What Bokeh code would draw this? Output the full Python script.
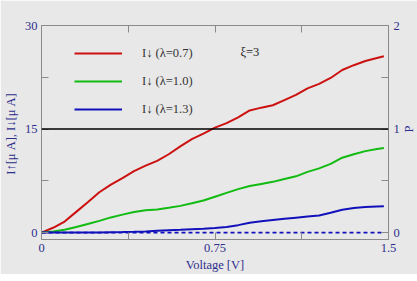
import math
from bokeh.plotting import figure
from bokeh.models import (Range1d, LinearAxis, FixedTicker, Span, Legend, LegendItem, Label)
from bokeh.embed import file_html
from bokeh.resources import INLINE

voltage = [0.0, 0.05, 0.1, 0.15, 0.2, 0.25, 0.3, 0.35, 0.4, 0.45, 0.5, 0.55, 0.6, 0.65,
           0.7, 0.75, 0.8, 0.85, 0.9, 0.95, 1.0, 1.05, 1.1, 1.15, 1.2, 1.25, 1.3, 1.35,
           1.4, 1.45, 1.48]
i_down_07 = [0.0, 0.7, 1.6, 3.0, 4.4, 5.85, 6.95, 7.9, 8.9, 9.7, 10.4, 11.35, 12.5, 13.55,
             14.35, 15.2, 15.85, 16.7, 17.7, 18.1, 18.45, 19.2, 19.95, 20.9, 21.55, 22.4,
             23.55, 24.25, 24.85, 25.3, 25.55]
i_down_10 = [0.0, 0.17, 0.4, 0.8, 1.25, 1.7, 2.2, 2.6, 2.98, 3.25, 3.35, 3.6, 3.87, 4.25,
             4.65, 5.2, 5.75, 6.3, 6.75, 7.05, 7.35, 7.75, 8.15, 8.8, 9.3, 9.95, 10.85,
             11.35, 11.8, 12.1, 12.25]
i_down_13 = [0.0, 0.0, 0.0, 0.0, 0.0, 0.02, 0.05, 0.08, 0.12, 0.17, 0.25, 0.33, 0.4, 0.48,
             0.55, 0.65, 0.82, 1.08, 1.44, 1.65, 1.82, 1.99, 2.16, 2.33, 2.47, 2.87, 3.31,
             3.55, 3.72, 3.78, 3.8]
i_up = [0.0, 0.0, 0.0, 0.0, 0.0, 0.0, 0.0, 0.0, 0.0, 0.0, 0.0, 0.0, 0.0, 0.0, 0.0, 0.0,
        0.0, 0.0, 0.0, 0.0, 0.0, 0.0, 0.0, 0.0, 0.0, 0.0, 0.0, 0.0, 0.0, 0.0, 0.0]
labels = ["I\u2193 (\u03bb=0.7)", "I\u2193 (\u03bb=1.0)", "I\u2193 (\u03bb=1.3)"]
colors = ["#cc1111", "#11bb11", "#1111bb"]
p_level = 15

BG = "#e8e8e8"
TXT = "#2e2e8c"
GRAY = "#8a8a8a"
FONT = "Liberation Serif"
FS = "12.5px"

p = figure(frame_width=347, frame_height=214, output_backend="svg", toolbar_location=None,
           x_range=Range1d(0, 1.5), y_range=Range1d(-1, 30),
           min_border_left=0, min_border_right=0, min_border_top=25, min_border_bottom=0,
           background_fill_color=BG, border_fill_color=BG,
           x_axis_location=None, y_axis_location=None)
p.grid.visible = False
p.outline_line_color = GRAY
p.outline_line_width = 1

p.extra_y_ranges = {"P": Range1d(-1 / 15, 2)}


def style(ax, ticks, minor):
    ax.ticker = FixedTicker(ticks=ticks, minor_ticks=minor)
    ax.axis_line_color = GRAY
    ax.major_tick_line_color = GRAY
    ax.minor_tick_line_color = GRAY
    ax.major_tick_in = 7
    ax.major_tick_out = 0
    ax.minor_tick_in = 7
    ax.minor_tick_out = 0
    ax.major_label_text_font = FONT
    ax.major_label_text_font_size = FS
    ax.major_label_text_color = TXT
    ax.major_label_standoff = 4
    ax.axis_label_text_font = FONT
    ax.axis_label_text_font_size = FS
    ax.axis_label_text_font_style = "normal"
    ax.axis_label_text_color = TXT
    ax.axis_label_standoff = 4


xb = LinearAxis(axis_label="Voltage [V]")
style(xb, [0, 0.75, 1.5], [0.375, 1.125])
xb.major_label_overrides = {0: "0", 0.75: "0.75", 1.5: "1.5"}
xb.major_label_standoff = 4
xb.axis_label_standoff = 3
p.add_layout(xb, "below")

xt = LinearAxis()
style(xt, [], [0.375, 0.75, 1.125])
p.add_layout(xt, "above")

yl = LinearAxis(axis_label="I\u2191[\u03bc A],  I\u2193[\u03bc A]")
style(yl, [0, 15, 30], [7.5, 22.5])
p.add_layout(yl, "left")

yr = LinearAxis(y_range_name="P", axis_label="P")
style(yr, [0, 1, 2], [0.5, 1.5])
yr.major_label_standoff = 5
yr.axis_label_standoff = 6
yr.axis_label_orientation = math.pi / 2
p.add_layout(yr, "right")

p.add_layout(Span(location=p_level, dimension="width", line_color="black", line_width=1.5))

renderers = []
for vals, c in zip([i_down_07, i_down_10, i_down_13], colors):
    renderers.append(p.line(voltage, vals, line_color=c, line_width=2))
p.line(voltage, i_up, line_color="#1111bb", line_width=1.6, line_dash="4 3")

legend = Legend(items=[LegendItem(label=l, renderers=[r]) for l, r in zip(labels, renderers)],
                location=(33, 120), orientation="vertical",
                glyph_width=48, glyph_height=20, label_height=20, label_standoff=20,
                spacing=8, padding=0, margin=0,
                border_line_alpha=0, background_fill_alpha=0,
                label_text_font=FONT, label_text_font_size=FS, label_text_color="#333333")
p.add_layout(legend)

p.add_layout(Label(x=0.86, y=26.1, text="\u03be=3", text_font=FONT, text_font_size=FS,
                   text_color="#222222", text_baseline="middle"))

open("out.html", "w").write(file_html(p, INLINE))
